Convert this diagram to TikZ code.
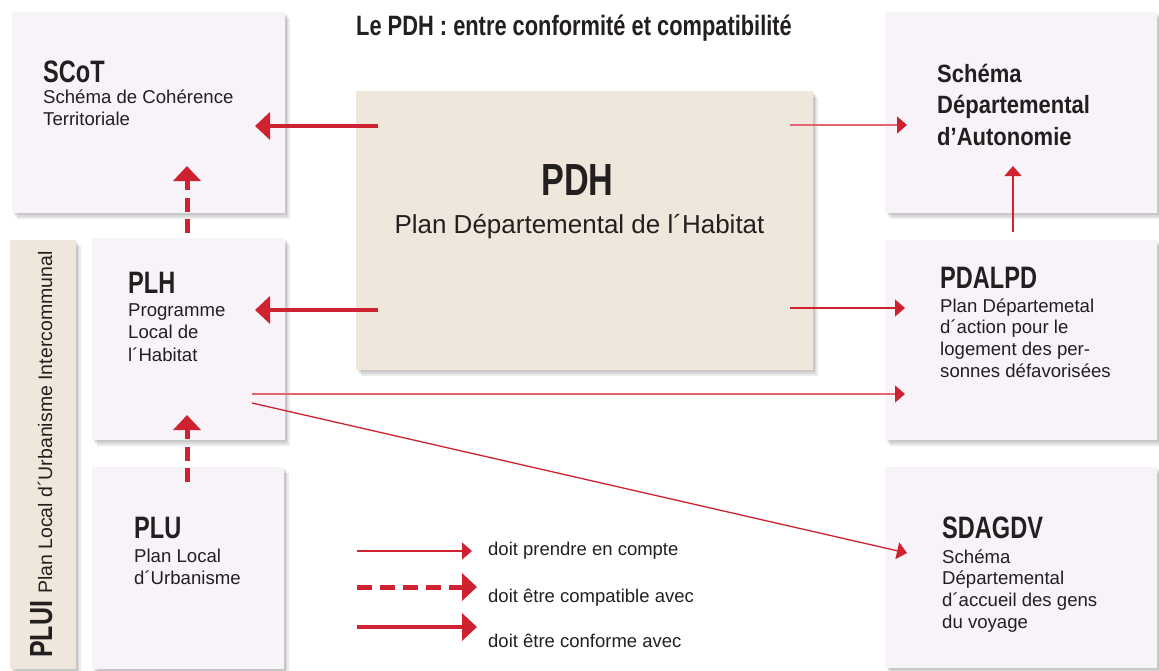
\documentclass[tikz,border=0pt]{standalone}
\usepackage{fontspec}
\setmainfont{Liberation Sans}
\newfontfamily\condB{Liberation Sans Bold}[FakeStretch=0.78]
\newfontfamily\condM{Liberation Sans Bold}[FakeStretch=0.76]
\newfontfamily\semiM{Liberation Sans Bold}[FakeStretch=0.88]
\usetikzlibrary{arrows.meta,calc,shadows}
\definecolor{myred}{HTML}{CE2230}
\definecolor{lightred}{HTML}{E2666F}
\definecolor{boxfill}{HTML}{F7F3F9}
\definecolor{beige}{HTML}{EFE7DB}
\definecolor{txtcol}{HTML}{231F20}
\newcommand\desc[2]{\parbox[t]{9cm}{\raggedright\fontsize{18.6}{#1}\selectfont #2}}
\newcommand\ttl[1]{{\condM\fontsize{31}{31}\selectfont #1}}
\begin{document}
\begin{tikzpicture}[x=1pt,y=-1pt,
  soft/.style={general shadow={fill=black, opacity=0.08, shadow xshift=1.5pt, shadow yshift=-2pt},
               general shadow={fill=black, opacity=0.08, shadow xshift=3pt, shadow yshift=-4pt},
               general shadow={fill=black, opacity=0.08, shadow xshift=4.5pt, shadow yshift=-6pt}},
  box/.style={rectangle, fill=boxfill, inner sep=0pt, outer sep=0pt, soft},
  beigebox/.style={rectangle, fill=beige, inner sep=0pt, outer sep=0pt, soft},
  txt/.style={inner sep=0pt, anchor=base west, text=txtcol},
  thinarrow/.style={draw=myred, line width=1.3pt, -{Triangle[length=10pt,width=17pt]}},
  lightarrow/.style={draw=lightred, line width=1.5pt, -{Triangle[length=10pt,width=17pt,color=myred]}},
  thickarrow/.style={draw=myred, line width=4pt, -{Triangle[length=15pt,width=27pt]}},
  compatarrow/.style={draw=myred, line width=5pt, dash pattern=on 14pt off 7.5pt, -{Triangle[length=15pt,width=27pt]}}
]
\useasboundingbox (0,0) rectangle (1159,670);

% boxes
\node[box, minimum width=273pt, minimum height=201pt] (scot) at (148.5,112.5) {};
\node[beigebox, minimum width=66pt, minimum height=429pt] (plui) at (43,454.5) {};
\node[box, minimum width=193pt, minimum height=202pt] (plh) at (188.5,339) {};
\node[box, minimum width=192pt, minimum height=202pt] (plu) at (188,568) {};
\node[beigebox, minimum width=457pt, minimum height=279pt] (pdh) at (584.5,230.5) {};
\node[box, minimum width=272pt, minimum height=201pt] (sda) at (1021,112.5) {};
\node[box, minimum width=272pt, minimum height=200pt] (pdalpd) at (1021,340) {};
\node[box, minimum width=272pt, minimum height=201pt] (sdagdv) at (1021,567.5) {};

% title
\node[txt] (title) at (356,35) {\condB\fontsize{28}{30}\selectfont Le PDH : entre conformité et compatibilité};

% texts
\node[txt] (scott) at (43,82) {\ttl{SCoT}};
\node[txt] (scotd) at (43,103) {\desc{22}{Schéma de Cohérence\\Territoriale}};
\node[txt] (plht) at (128,293) {\ttl{PLH}};
\node[txt] (plhd) at (128,316) {\desc{22.5}{Programme\\Local de\\l´Habitat}};
\node[txt] (plut) at (134,538) {\ttl{PLU}};
\node[txt] (plud) at (134,562) {\desc{22}{Plan Local\\d´Urbanisme}};
\node[inner sep=0pt, anchor=base, text=txtcol] (pdht) at (577.5,195) {\condM\fontsize{45}{45}\selectfont PDH};
\node[inner sep=0pt, anchor=base, text=txtcol] (pdhd) at (579.5,233) {\fontsize{26}{26}\selectfont Plan Départemental de l´Habitat};
\node[txt] (sdat) at (937,82) {\parbox[t]{9cm}{\raggedright\semiM\fontsize{25}{31.5}\selectfont Schéma\\Départemental\\d’Autonomie}};
\node[txt] (pdalpdt) at (940,288) {\ttl{PDALPD}};
\node[txt] (pdalpdd) at (940,312) {\desc{21.7}{Plan Départemetal\\d´action pour le\\logement des per-\\sonnes défavorisées}};
\node[txt] (sdagdvt) at (942,538) {\ttl{SDAGDV}};
\node[txt] (sdagdvd) at (942,563) {\desc{21.7}{Schéma\\Départemental\\d´accueil des gens\\du voyage}};
\node[txt, rotate=90] (pluit) at (52,658) {{\condB\fontsize{32}{32}\selectfont PLUI}\hspace{7pt}{\fontsize{19.5}{20}\selectfont Plan Local d´Urbanisme Intercommunal}};

% connectors
\draw[thickarrow] ($(pdh.north west)+(22,35)$) -- ($(scot.north east)+(-30,114)$);
\draw[thickarrow] ($(pdh.north west)+(22,219)$) -- ($(plh.north east)+(-30,72)$);
\draw[compatarrow] ($(plh.north west)+(95,-5)$) -- ($(scot.south west)+(175,-47)$);
\draw[compatarrow] ($(plu.north west)+(95,15)$) -- ($(plh.south west)+(95,-25)$);
\draw[lightarrow] ($(pdh.north east)+(-23,34)$) -- ($(sda.north west)+(22,113)$);
\draw[thinarrow] ($(pdh.north east)+(-23,217)$) -- ($(pdalpd.north west)+(20,68)$);
\draw[lightarrow] ($(plh.north east)+(-33,156)$) -- ($(pdalpd.north west)+(20,154)$);
\draw[thinarrow] ($(plh.north east)+(-33,165)$) -- ($(sdagdv.north west)+(22,86)$);
\draw[thinarrow] ($(pdalpd.north west)+(128,-8)$) -- ($(sda.south west)+(128,-47)$);

% legend
\coordinate (l1a) at (357,551); \coordinate (l1b) at (472,551);
\coordinate (l2a) at (357,587); \coordinate (l2b) at (477,587);
\coordinate (l3a) at (357,627); \coordinate (l3b) at (477,627);
\draw[thinarrow] (l1a) -- (l1b);
\draw[compatarrow, dash pattern=on 15pt off 8pt] (l2a) -- (l2b);
\draw[thickarrow] (l3a) -- (l3b);
\node[txt] (leg1) at (488,555) {\fontsize{18.5}{20}\selectfont doit prendre en compte};
\node[txt] (leg2) at (488,602) {\fontsize{18.5}{20}\selectfont doit être compatible avec};
\node[txt] (leg3) at (488,647) {\fontsize{18.5}{20}\selectfont doit être conforme avec};
\end{tikzpicture}
\end{document}
